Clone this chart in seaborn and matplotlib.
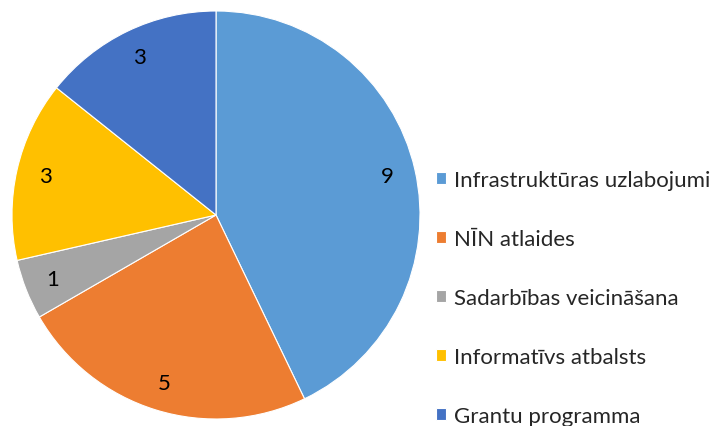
import matplotlib
matplotlib.use("Agg")
import matplotlib.pyplot as plt
import seaborn as sns

categories = ["Infrastruktūras uzlabojumi", "NĪN atlaides", "Sadarbības veicināšana",
              "Informatīvs atbalsts", "Grantu programma"]
values = [9, 5, 1, 3, 3]
colors_hex = ["#5B9BD5", "#ED7D31", "#A5A5A5", "#FFC000", "#4472C4"]

sns.set_theme(style="white")
plt.rcParams['font.family'] = ['Lato', 'DejaVu Sans']
palette = sns.color_palette(colors_hex)

W, H = 716, 427
fig = plt.figure(figsize=(W / 100, H / 100), dpi=100)
ax = fig.add_axes([12 / W, (H - 420) / H, 408 / W, 408 / H])

wedges, texts, autotexts = ax.pie(
    values, colors=palette, startangle=90, counterclock=False,
    autopct=lambda p: f"{round(p * sum(values) / 100):d}",
    pctdistance=0.86, radius=1.0,
    wedgeprops=dict(edgecolor="white", linewidth=0.8),
    textprops=dict(fontsize=16, color="black"))
ax.set_xlim(-1.0, 1.0)
ax.set_ylim(-1.0, 1.0)
ax.set_aspect("equal")
ax.axis("off")

leg = fig.legend(wedges, categories, loc="upper left",
                 bbox_to_anchor=(436 / W, 1 - 171 / H),
                 frameon=False, fontsize=16, labelspacing=1.75,
                 handlelength=0.45, handleheight=0.45, handletextpad=0.36,
                 borderaxespad=0, borderpad=0)

fig.savefig("out.png", dpi=100)
